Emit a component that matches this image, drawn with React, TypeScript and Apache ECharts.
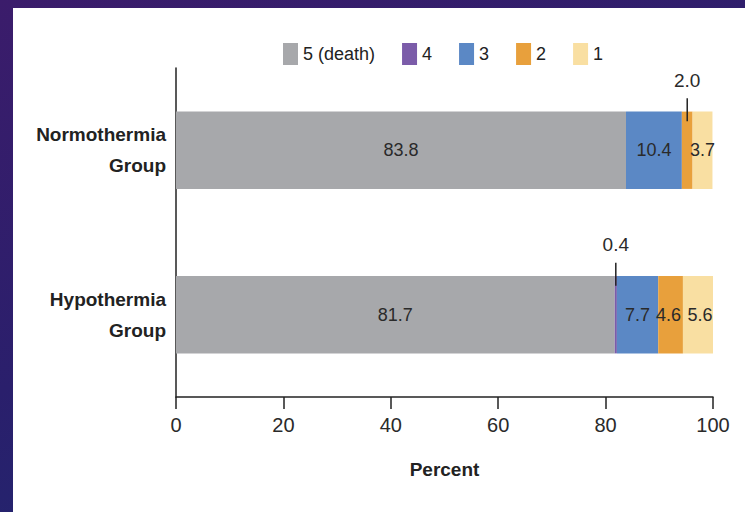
import React, { useEffect, useRef } from "react";
import * as echarts from "echarts";

const categories = ["Normothermia\nGroup", "Hypothermia\nGroup"];
const seriesNames = ["5 (death)", "4", "3", "2", "1"];
const death = [83.8, 81.7];
const score4 = [0, 0.4];
const score3 = [10.4, 7.7];
const score2 = [2.0, 4.6];
const score1 = [3.7, 5.6];
const xTicks = [0, 20, 40, 60, 80, 100];
const colors = ["#a7a8ab", "#7b5ca9", "#5b88c5", "#e8a03c", "#f9dfa2"];

const FONT = "'Liberation Sans', Arial, sans-serif";

export default function App() {
  const ref = useRef<HTMLDivElement>(null);
  useEffect(() => {
    if (!ref.current) return;
    const chart = echarts.init(ref.current, undefined, { renderer: "svg" });
    const allData = [death, score4, score3, score2, score1];
    // segments whose values are written above the bar with a leader line
    const outside: Record<string, boolean> = { "3-0": true, "1-1": true };
    // small nudges so that neighbouring labels in narrow segments do not touch
    const nudge: Record<string, number> = { "3-1": -2, "4-1": 2 };
    const series = allData.map((arr, si) => ({
      name: seriesNames[si],
      type: "bar",
      stack: "total",
      barWidth: "47%",
      itemStyle: { color: colors[si] },
      data: arr.map((v, ci) => {
        const key = `${si}-${ci}`;
        const isOut = outside[key];
        return {
          value: v,
          label: isOut
            ? { show: true, position: "top", distance: 22, formatter: v.toFixed(1), fontSize: 19 }
            : {
                show: v > 0,
                position: "inside",
                formatter: v.toFixed(1),
                offset: [nudge[key] || 0, 0],
              },
        };
      }),
      label: {
        fontFamily: FONT,
        fontSize: 18,
        color: "#2a2a2a",
      },
    }));
    chart.setOption({
      animation: false,
      backgroundColor: "transparent",
      textStyle: { fontFamily: FONT },
      legend: {
        top: 38,
        left: 278,
        data: seriesNames,
        itemWidth: 15,
        itemHeight: 22,
        itemGap: 27,
        icon: "rect",
        selectedMode: false,
        textStyle: { fontSize: 18, color: "#222", fontFamily: FONT },
      },
      grid: { left: 176, right: 32, top: 68, bottom: 115 },
      xAxis: {
        type: "value",
        min: 0,
        max: 100,
        interval: 20,
        splitLine: { show: false },
        axisLine: { show: true, lineStyle: { color: "#222", width: 1.5 } },
        axisTick: { show: true, length: 12, lineStyle: { color: "#222", width: 1.5 } },
        axisLabel: {
          fontSize: 20,
          color: "#2a2a2a",
          margin: 18,
          fontFamily: FONT,
          formatter: (v: number) => (xTicks.includes(v) ? String(v) : ""),
        },
        name: "Percent",
        nameLocation: "middle",
        nameGap: 63,
        nameTextStyle: { fontSize: 19, fontWeight: "bold", color: "#222", fontFamily: FONT },
      },
      yAxis: {
        type: "category",
        inverse: true,
        data: categories,
        axisLine: { show: true, lineStyle: { color: "#222", width: 1.5 } },
        axisTick: { show: false },
        axisLabel: {
          fontSize: 19,
          fontWeight: "bold",
          color: "#222",
          lineHeight: 31,
          align: "right",
          margin: 10,
          fontFamily: FONT,
        },
      },
      series,
    });
    // leader lines for the small segments
    const lines: any[] = [];
    Object.keys(outside).forEach((k) => {
      const [si, ci] = k.split("-").map(Number);
      let start = 0;
      for (let s = 0; s < si; s++) start += allData[s][ci];
      const mid = start + allData[si][ci] / 2;
      const p = chart.convertToPixel({ gridIndex: 0 }, [mid, ci]) as number[];
      lines.push({
        type: "line",
        shape: { x1: p[0], y1: p[1] - 52, x2: p[0], y2: p[1] - 29 },
        style: { stroke: "#222", lineWidth: 1.5 },
        z: 10,
      });
    });
    chart.setOption({ graphic: lines });
    return () => chart.dispose();
  }, []);

  return (
    <div
      style={{
        position: "fixed",
        left: 0,
        top: 0,
        width: 745,
        height: 512,
        background: "linear-gradient(160deg, #3b1c6b 0%, #2a1f6c 50%, #1b2a70 100%)",
        overflow: "hidden",
      }}
    >
      <div
        style={{
          position: "absolute",
          left: 13,
          top: 8,
          width: 732,
          height: 504,
          background: "#ffffff",
        }}
      />
      <div ref={ref} style={{ position: "absolute", left: 0, top: 0, width: 745, height: 512 }} />
    </div>
  );
}
